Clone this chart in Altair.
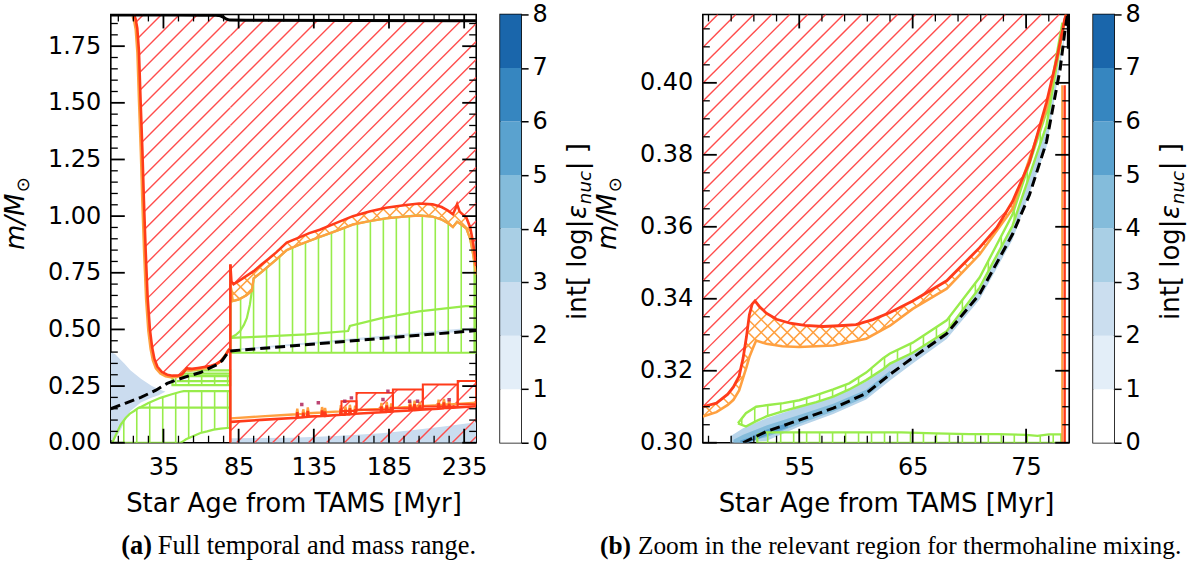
import numpy as np
import pandas as pd
import altair as alt

# ---------------- texts ----------------
X_TITLE = "Star Age from TAMS [Myr]"
Y_T_MAIN = "m/M"
Y_T_SUB = "⊙"
CB_T1 = "int[ log|"
CB_T2 = "ε"
CB_T3 = "nuc"
CB_T4 = "| ]"
CAP_A_B = "(a)"
CAP_A = "Full temporal and mass range."
CAP_B_B = "(b)"
CAP_B = "Zoom in the relevant region for thermohaline mixing."

# ---------------- ticks ----------------
A_XMAJ = [35, 85, 135, 185, 235]
A_XMIN = [5, 15, 25, 45, 55, 65, 75, 95, 105, 115, 125, 145, 155, 165, 175, 195, 205,
          215, 225]
A_YMAJ = [0.0, 0.25, 0.5, 0.75, 1.0, 1.25, 1.5, 1.75]
A_YMIN = [0.05, 0.1, 0.15, 0.2, 0.3, 0.35, 0.4, 0.45, 0.55, 0.6, 0.65, 0.7, 0.8, 0.85,
          0.9, 0.95, 1.05, 1.1, 1.15, 1.2, 1.3, 1.35, 1.4, 1.45, 1.55, 1.6, 1.65, 1.7,
          1.8, 1.85]
B_XMAJ = [55, 65, 75]
B_XMIN = [47, 49, 51, 53, 57, 59, 61, 63, 67, 69, 71, 73, 77]
B_YMAJ = [0.30, 0.32, 0.34, 0.36, 0.38, 0.40]
B_YMIN = [0.305, 0.310, 0.315, 0.325, 0.330, 0.335, 0.345, 0.350, 0.355, 0.365, 0.370,
          0.375, 0.385, 0.390, 0.395, 0.405, 0.410, 0.415]
CB_LEVELS = [0, 1, 2, 3, 4, 5, 6, 7, 8]
CB_COLORS = ["#ffffff", "#e3eef8", "#cbdeef", "#a9cfe5", "#84bcdb", "#5aa2cf",
             "#3686c0", "#1a66ab"]

# ---------------- panel (a) data ----------------
A_top_x = [0, 40, 60, 70, 73, 75, 77, 79, 90, 160, 243]
A_top_y = [1.888, 1.888, 1.887, 1.886, 1.884, 1.877, 1.869, 1.865, 1.864, 1.863, 1.862]

A_env1_x = [15.5, 16.5, 17.6, 18.7, 19.8, 21.0, 22.0, 23.2, 24.5, 26.0, 27.5, 29.0, 31.0,
            34.0, 37.5, 41.0, 45.0, 47.5, 49.3, 50.5, 52.0, 54.0, 58.0, 62.0, 66.0, 70.0,
            73.0, 75.0, 77.0, 78.5, 79.5]
A_env1_y = [1.889, 1.87, 1.83, 1.73, 1.51, 1.29, 1.07, 0.845, 0.64, 0.50, 0.42, 0.37, 0.335,
            0.312, 0.300, 0.296, 0.297, 0.303, 0.318, 0.330, 0.327, 0.326, 0.330, 0.334,
            0.338, 0.348, 0.360, 0.375, 0.392, 0.410, 0.418]

A_rv_x = [79.5, 79.5]
A_rv_y = [0.0, 0.787]

A_env2_x = [79.5, 80.2, 81.6, 85, 90, 95, 100, 105, 110, 117, 125, 132, 139, 150, 161, 172,
            183, 195, 205, 214, 220, 224, 227.5, 229, 230.3, 232, 236.5, 239, 241, 243]
A_env2_y = [0.787, 0.712, 0.699, 0.713, 0.735, 0.757, 0.785, 0.812, 0.84, 0.883, 0.905, 0.925,
            0.94, 0.97, 1.0, 1.02, 1.037, 1.048, 1.056, 1.052, 1.04, 1.025, 1.008, 1.03,
            1.052, 1.02, 0.993, 0.95, 0.88, 0.78]

A_or2_x = [79.6, 81, 85, 90, 93.8, 95, 100, 110, 117, 125, 139, 150, 161, 172, 183, 195, 205,
           214, 220, 224, 227.5, 230.3, 232, 236.5, 239, 241, 243]
A_or2_y = [0.70, 0.625, 0.632, 0.65, 0.67, 0.725, 0.752, 0.808, 0.85, 0.873, 0.908, 0.935,
           0.963, 0.978, 0.99, 0.998, 1.003, 0.998, 0.985, 0.97, 0.952, 0.975, 0.968, 0.945,
           0.90, 0.83, 0.74]

A_gR_x = [79.6, 243]
A_gR_lo = [0.397, 0.397]
A_gmid_x = [79.6, 100, 130, 157.8, 159, 180, 205, 236, 243]
A_gmid_y = [0.463, 0.468, 0.478, 0.493, 0.515, 0.55, 0.58, 0.603, 0.603]
A_gcur_x = [79.6, 83, 86, 88.5, 90.5, 92.5, 93.8]
A_gcur_y = [0.463, 0.475, 0.493, 0.52, 0.551, 0.61, 0.67]

A_gL1_x = [1, 3, 6.6, 10, 13, 15.5, 18, 20, 25, 33, 40, 46.4, 48.5, 50, 55, 59.6, 64, 68.4,
           73, 77.3, 79.4]
A_gL1_hi = [0.0, 0.03, 0.08, 0.11, 0.13, 0.14, 0.152, 0.158, 0.175, 0.198, 0.213, 0.225,
            0.228, 0.228, 0.228, 0.228, 0.228, 0.228, 0.228, 0.228, 0.228]
A_gL1_lo = [0.0, 0.0, 0.0, 0.0, 0.0, 0.0, 0.0, 0.0, 0.0, 0.0, 0.0, 0.0, 0.008, 0.015, 0.03,
            0.043, 0.05, 0.058, 0.062, 0.065, 0.066]
A_gL1m_x = [18.5, 79.4]
A_gL1m_y = [0.155, 0.155]
A_gL2_x = [41, 79.4]
A_gL2_lo = [0.254, 0.254]
A_gL2_hi = [0.294, 0.294]
A_gL2m_x = [44, 79.4]
A_gL2m_y = [0.272, 0.272]
A_gL3_x = [48.6, 79.4]
A_gL3_lo = [0.305, 0.305]
A_gL3_hi = [0.319, 0.319]

A_dash1_x = [0, 10, 20, 30, 37.5, 45, 52, 59.6, 66, 70.7, 74, 76.5, 78.6, 79.5]
A_dash1_y = [0.150, 0.175, 0.200, 0.232, 0.262, 0.28, 0.295, 0.31, 0.33, 0.345, 0.362,
             0.385, 0.405, 0.407]
A_dash2_x = [79.5, 243]
A_dash2_y = [0.405, 0.495]

A_bR_x = [79.6, 243]
A_bR_lo = [0.405, 0.495]
A_bR_hi = [0.412, 0.51]
A_bB_x = [79.6, 120, 150, 180, 200, 220, 243]
A_bB_hi = [0.02, 0.022, 0.03, 0.042, 0.055, 0.07, 0.09]
A_bL_x = [0, 3, 6, 9, 13, 20, 27, 31.8, 36.2]
A_bL_hi = [0.40, 0.39, 0.37, 0.35, 0.32, 0.282, 0.252, 0.236, 0.226]
A_bL_lo = [0.01, 0.02, 0.05, 0.09, 0.14, 0.178, 0.198, 0.21, 0.225]

A_rb_x = [79.6, 100, 123.5, 124, 124.6, 127.5, 128, 128.6, 130.5, 131, 131.6, 140, 140.5,
          141.2, 142, 142.5, 143, 152.5, 153, 153.6, 155.5, 156, 156.6, 158.5, 159, 159.6,
          162, 162.5, 163, 179.5, 180, 180.6, 183, 183.5, 184.1, 186, 186.5, 187, 198.5,
          199, 199.6, 201.5, 202, 202.6, 205, 205.5, 206, 217.5, 218, 218.6, 221, 221.5,
          222.1, 224.5, 225, 225.6, 243]
A_rb_y = [0.092, 0.101, 0.110, 0.135, 0.111, 0.112, 0.132, 0.113, 0.114, 0.140, 0.115,
          0.118, 0.142, 0.119, 0.118, 0.138, 0.119, 0.123, 0.150, 0.124, 0.124, 0.145,
          0.125, 0.125, 0.152, 0.126, 0.127, 0.148, 0.128, 0.134, 0.160, 0.135, 0.136,
          0.165, 0.137, 0.137, 0.158, 0.138, 0.142, 0.168, 0.143, 0.143, 0.170, 0.144,
          0.145, 0.165, 0.146, 0.150, 0.175, 0.151, 0.152, 0.178, 0.153, 0.153, 0.172,
          0.154, 0.161]

A_rect_x0 = [153.4, 163.4, 187.6, 207.5, 230.7]
A_rect_x1 = [163.4, 187.6, 207.5, 230.7, 243.0]
A_rect_y0 = [0.140, 0.145, 0.152, 0.160, 0.170]
A_rect_y1 = [0.183, 0.220, 0.235, 0.257, 0.272]

A_spot_x = [127, 138, 155.6, 160, 181, 184.3, 198.7, 204, 225]
A_spot_y = [0.169, 0.176, 0.183, 0.198, 0.191, 0.227, 0.183, 0.183, 0.19]

# ---------------- panel (b) data ----------------
B_red_x = [46.5, 47.7, 48.7, 49.2, 49.7, 50.05, 50.35, 50.6, 50.85, 51.1, 51.5, 52.1, 53.0,
           54.2, 55.5, 57.1, 58.5, 60.0, 61.5, 63.0, 65.0, 68.0, 70.9, 72.4, 73.8, 75.3,
           76.8, 77.7, 78.4, 78.55]
B_red_y = [0.310, 0.311, 0.3135, 0.3155, 0.3185, 0.3235, 0.3295, 0.3355, 0.3385, 0.3394,
           0.3378, 0.336, 0.3343, 0.3332, 0.3326, 0.3323, 0.3325, 0.3328, 0.3342, 0.3362,
           0.3394, 0.345, 0.3542, 0.3597, 0.367, 0.378, 0.3946, 0.4066, 0.4177, 0.419]
B_or_x = [46.5, 47.7, 48.7, 49.2, 49.7, 50.05, 50.35, 50.6, 50.9, 51.2, 52.1, 53.5, 55.0,
          58.0, 60.9, 63.0, 65.0, 68.0, 70.9, 73.8, 76.8, 78.4, 78.5]
B_or_y = [0.3073, 0.3085, 0.3105, 0.3119, 0.3145, 0.318, 0.321, 0.3238, 0.3262, 0.3284,
          0.3275, 0.3268, 0.3266, 0.327, 0.3289, 0.3325, 0.3372, 0.3428, 0.3523, 0.365,
          0.3928, 0.417, 0.419]
B_gb_x = [49.6, 50.3, 51.2, 52.1, 53.6, 55.0, 56.5, 58.0, 59.4, 60.9, 62.4, 63.0, 65.0,
          68.0, 70.9, 73.8, 76.8, 78.2]
B_gb_hi = [0.3054, 0.3082, 0.3100, 0.3104, 0.3110, 0.3118, 0.3132, 0.3148, 0.3165, 0.3195,
           0.3235, 0.3248, 0.3278, 0.3340, 0.3459, 0.3634, 0.3919, 0.4167]
B_gb_lo = [0.3054, 0.3045, 0.3060, 0.3073, 0.3088, 0.3100, 0.3113, 0.3128, 0.3148, 0.3174,
           0.3205, 0.3220, 0.3250, 0.3310, 0.3431, 0.3603, 0.3882, 0.4140]
B_gbb_x = [51.3, 52.0, 60.0, 64.0, 67.0, 70.0, 72.5, 75.0, 76.0, 77.0, 78.1]
B_gbb_hi = [0.3022, 0.3029, 0.3029, 0.3029, 0.3026, 0.3024, 0.3024, 0.3022, 0.3019,
            0.3023, 0.3023]
B_gbb_lo = [0.300, 0.300, 0.300, 0.300, 0.300, 0.300, 0.300, 0.300, 0.300, 0.300, 0.300]
B_dash_x = [50.05, 52.1, 55.0, 58.0, 60.9, 63.0, 65.0, 68.0, 70.9, 73.8, 75.3, 76.8, 78.0,
            78.4, 78.65]
B_dash_y = [0.300, 0.3031, 0.3063, 0.3096, 0.3137, 0.3190, 0.3236, 0.3303, 0.3413, 0.3579,
            0.3689, 0.3836, 0.4038, 0.4139, 0.419]
B_bl_x = [48.9, 50.05, 52.1, 55.0, 58.0, 60.9, 63.0, 65.0, 68.0, 70.9, 73.8, 76.8, 78.4]
B_bl_lo = [0.300, 0.300, 0.3005, 0.3045, 0.3080, 0.3120, 0.3173, 0.3220, 0.3288, 0.3398,
           0.3564, 0.3822, 0.4125]
B_bl_hi = [0.3017, 0.3040, 0.3068, 0.3098, 0.3126, 0.3170, 0.3218, 0.3248, 0.3312, 0.3428,
           0.3601, 0.3880, 0.4140]
B_bm_x = [49.2, 50.05, 52.1, 55.0, 58.0, 60.9, 63.0]
B_bm_lo = [0.300, 0.300, 0.3015, 0.3052, 0.3087, 0.3127, 0.3185]
B_bm_hi = [0.3008, 0.3022, 0.3048, 0.3077, 0.3108, 0.3147, 0.3200]
B_bd_x = [49.8, 50.5, 52.1, 54.0]
B_bd_lo = [0.300, 0.300, 0.3020, 0.3042]
B_bd_hi = [0.3006, 0.3013, 0.3036, 0.3055]
B_rv_x = [78.4, 78.4]
B_rv_y = [0.300, 0.3993]
B_blk_x = [78.7, 78.7]
B_blk_y = [0.4095, 0.419]

# ---------------- styling ----------------
RED = "#ff3b1a"
RED_H = "#ff4d4d"
ORANGE = "#ffa040"
GREEN = "#98ec4b"
FONT = "DejaVu Sans"
SERIF = "Liberation Serif"

W_A, H_A = 366, 429
W_B, H_B = 367, 429
XA = [0, 243]
YA = [0, 1.89]
XB = [46.5, 78.8]
YB = [0.30, 0.419]
DOM_A = (XA, YA, W_A, H_A)
DOM_B = (XB, YB, W_B, H_B)


def scales(dom):
    xd, yd, W, H = dom
    return (alt.Scale(domain=xd, nice=False, zero=False),
            alt.Scale(domain=yd, nice=False, zero=False))


def diag_hatch(lx, ly, hx, hy, xr, dom, d, sign, step=0.25):
    xd, yd, W, H = dom
    sx = W / (xd[1] - xd[0])
    sy = H / (yd[1] - yd[0])
    X = np.arange((xr[0] - xd[0]) * sx, (xr[1] - xd[0]) * sx + 1e-9, step)
    xs = X / sx + xd[0]
    L = (np.interp(xs, lx, ly) - yd[0]) * sy
    U = (np.interp(xs, hx, hy) - yd[0]) * sy
    if sign > 0:
        cmin, cmax = (L - X).min(), (U - X).max()
    else:
        cmin, cmax = (L + X).min(), (U + X).max()
    rows = []
    for k in range(int(np.floor(cmin / d)), int(np.ceil(cmax / d)) + 1):
        Y = sign * X + k * d
        ins = ((Y >= L) & (Y <= U)).astype(int)
        e = np.flatnonzero(np.diff(np.concatenate([[0], ins, [0]])))
        for a, b in zip(e[0::2], e[1::2]):
            if b - a >= 2:
                rows.append((X[a] / sx + xd[0], Y[a] / sy + yd[0],
                             X[b - 1] / sx + xd[0], Y[b - 1] / sy + yd[0]))
    return pd.DataFrame(rows, columns=["x", "y", "x2", "y2"])


def vert_hatch(lx, ly, hx, hy, xr, dom, d):
    xd, yd, W, H = dom
    sx = W / (xd[1] - xd[0])
    X0 = (xr[0] - xd[0]) * sx
    X1 = (xr[1] - xd[0]) * sx
    X = np.arange(np.ceil(X0 / d) * d, X1, d)
    xs = X / sx + xd[0]
    lo = np.interp(xs, lx, ly)
    hi = np.interp(xs, hx, hy)
    m = hi > lo
    return pd.DataFrame({"x": xs[m], "y": lo[m], "x2": xs[m], "y2": hi[m]})


def segs(df, dom, color, width):
    xs, ys = scales(dom)
    return alt.Chart(df).mark_rule(color=color, strokeWidth=width, clip=True).encode(
        x=alt.X("x:Q", scale=xs, axis=None), y=alt.Y("y:Q", scale=ys, axis=None),
        x2="x2:Q", y2="y2:Q")


def line(x, y, dom, color, width, dash=None, xoff=None, yoff=None):
    xs, ys = scales(dom)
    df = pd.DataFrame({"x": x, "y": y, "i": np.arange(len(x))})
    kw = dict(color=color, strokeWidth=width, clip=True)
    if dash:
        kw["strokeDash"] = dash
    if xoff is not None:
        kw["xOffset"] = xoff
    if yoff is not None:
        kw["yOffset"] = yoff
    return alt.Chart(df).mark_line(**kw).encode(
        x=alt.X("x:Q", scale=xs, axis=None), y=alt.Y("y:Q", scale=ys, axis=None),
        order="i:Q")


def outline(lx, ly, hx, hy, dom, color, width):
    x = list(hx) + list(lx)[::-1] + [hx[0]]
    y = list(hy) + list(ly)[::-1] + [hy[0]]
    return line(x, y, dom, color, width)


def band(x, lo, hi, dom, color):
    xs, ys = scales(dom)
    df = pd.DataFrame({"x": x, "lo": lo, "hi": hi})
    return alt.Chart(df).mark_area(color=color, opacity=1, clip=True).encode(
        x=alt.X("x:Q", scale=xs, axis=None), y=alt.Y("hi:Q", scale=ys, axis=None),
        y2="lo:Q")


def text(t, x, y, size, angle=0, align="left", font=FONT, style="normal", weight="normal"):
    kw = dict(x=x, y=y, fontSize=size, align=align, baseline="alphabetic", font=font,
              fontStyle=style, fontWeight=weight, color="black")
    if angle:
        kw["angle"] = angle
    return alt.Chart(pd.DataFrame({"t": [t]})).mark_text(**kw).encode(text="t:N")


def anchor(x, x2, y, y2):
    return alt.Chart(pd.DataFrame({"a": [0]})).mark_rule(opacity=0, strokeWidth=0).encode(
        x=alt.value(x), x2=alt.value(x2), y=alt.value(y), y2=alt.value(y2))


def axes(dom, xmaj, xmin, ymaj, ymin):
    xd, yd, W, H = dom
    xs, ys = scales(dom)
    df = pd.DataFrame({"x": [xd[0]], "y": [yd[0]]})
    lab = dict(labelFont=FONT, labelFontSize=24, labelColor="black", grid=False, domain=False)
    out = [alt.Chart(df).mark_point(opacity=0).encode(
        x=alt.X("x:Q", scale=xs, axis=alt.Axis(
            orient="bottom", values=xmaj, format="d", ticks=False, tickSize=0,
            labelPadding=13, title=X_TITLE, titleFont=FONT, titleFontSize=26,
            titleFontWeight="normal", titleColor="black", titleX=W / 2, titleY=69,
            titleBaseline="alphabetic", titleAlign="center", **lab)),
        y=alt.Y("y:Q", scale=ys, axis=alt.Axis(
            orient="left", values=ymaj, format=".2f", ticks=False, tickSize=0,
            labelPadding=10, title=None, **lab)))]
    # inward ticks on all four sides, drawn from the tick value lists
    for xv, yv, size, wdt in [(xmaj, ymaj, 14, 1.8), (xmin, ymin, 7, 1.3)]:
        dx = pd.DataFrame({"v": xv})
        dy = pd.DataFrame({"v": yv})
        for a, b in [(H, H - size), (0, size)]:
            out.append(alt.Chart(dx).mark_rule(color="black", strokeWidth=wdt).encode(
                x=alt.X("v:Q", scale=xs, axis=None), y=alt.value(a), y2=alt.value(b)))
        for a, b in [(0, size), (W, W - size)]:
            out.append(alt.Chart(dy).mark_rule(color="black", strokeWidth=wdt).encode(
                y=alt.Y("v:Q", scale=ys, axis=None), x=alt.value(a), x2=alt.value(b)))
    return out


def ytitle():
    return [text(Y_T_MAIN, -87, 236, 26, angle=270, style="italic"),
            text(Y_T_SUB, -82, 236 - 58, 18, angle=270)]


# ---------------- panel (a) ----------------
D = DOM_A
red_a = pd.concat([
    diag_hatch(A_env1_x, A_env1_y, A_top_x, A_top_y, [15.5, 79.5], D, 18, 1),
    diag_hatch(A_env2_x, A_env2_y, A_top_x, A_top_y, [79.5, 243], D, 18, 1),
    diag_hatch([79.6, 243], [0, 0], A_rb_x, A_rb_y, [79.6, 243], D, 18, 1),
] + [diag_hatch([a, b], [c, c], [a, b], [e, e], [a, b], D, 18, 1)
     for a, b, c, e in zip(A_rect_x0, A_rect_x1, A_rect_y0, A_rect_y1)], ignore_index=True)
or_a = pd.concat([
    diag_hatch(A_or2_x, A_or2_y, A_env2_x, A_env2_y, [79.6, 243], D, 13, 1),
    diag_hatch(A_or2_x, A_or2_y, A_env2_x, A_env2_y, [79.6, 243], D, 13, -1),
], ignore_index=True)
gr_a = pd.concat([
    vert_hatch(A_gR_x, A_gR_lo, A_or2_x, A_or2_y, [79.6, 243], D, 13),
    vert_hatch(A_gL1_x, A_gL1_lo, A_gL1_x, A_gL1_hi, [1, 79.4], D, 13),
    vert_hatch(A_gL2_x, A_gL2_lo, A_gL2_x, A_gL2_hi, [41, 79.4], D, 13),
], ignore_index=True)

xs_a, ys_a = scales(D)
rects_a = alt.Chart(pd.DataFrame({"x": A_rect_x0, "x2": A_rect_x1, "y": A_rect_y0,
                                  "y2": A_rect_y1})).mark_rect(
    fillOpacity=0, stroke=RED, strokeWidth=2, clip=True).encode(
    x=alt.X("x:Q", scale=xs_a, axis=None), x2="x2:Q",
    y=alt.Y("y:Q", scale=ys_a, axis=None), y2="y2:Q")
spots_a = alt.Chart(pd.DataFrame({"x": A_spot_x, "y": A_spot_y})).mark_square(
    color="#b0245a", size=12, opacity=0.85, clip=True).encode(
    x=alt.X("x:Q", scale=xs_a, axis=None), y=alt.Y("y:Q", scale=ys_a, axis=None))

layers_a = [
    band(A_bL_x, A_bL_lo, A_bL_hi, D, "#cbdcef"),
    band(A_bB_x, [0] * len(A_bB_x), A_bB_hi, D, "#c9dcef"),
    band(A_bR_x, A_bR_lo, A_bR_hi, D, "#cfe0f1"),
    segs(gr_a, D, GREEN, 1.6),
    segs(or_a, D, ORANGE, 1.5),
    segs(red_a, D, RED_H, 1.4),
    outline(A_gL1_x, A_gL1_lo, A_gL1_x, A_gL1_hi, D, GREEN, 2.2),
    line(A_gL1m_x, A_gL1m_y, D, GREEN, 2.2),
    outline(A_gL2_x, A_gL2_lo, A_gL2_x, A_gL2_hi, D, GREEN, 2.2),
    line(A_gL2m_x, A_gL2m_y, D, GREEN, 2.2),
    outline(A_gL3_x, A_gL3_lo, A_gL3_x, A_gL3_hi, D, GREEN, 2.2),
    outline(A_gR_x, A_gR_lo, A_or2_x, A_or2_y, D, GREEN, 2.2),
    line(A_gmid_x, A_gmid_y, D, GREEN, 2.2),
    line(A_gcur_x, A_gcur_y, D, GREEN, 2.2),
    line(A_env1_x, A_env1_y, D, ORANGE, 2.4, xoff=-1.6, yoff=1.6),
    line(A_or2_x, A_or2_y, D, ORANGE, 2.4),
    line(A_rb_x, A_rb_y, D, ORANGE, 2.4, yoff=-3.5),
    rects_a,
    line(A_rb_x, A_rb_y, D, RED, 2.6),
    spots_a,
    line(A_env1_x, A_env1_y, D, RED, 2.6),
    line(A_env2_x, A_env2_y, D, RED, 2.6),
    line(A_rv_x, A_rv_y, D, RED, 2.6),
    line(A_dash1_x, A_dash1_y, D, "black", 3, dash=[10, 5]),
    line(A_dash2_x, A_dash2_y, D, "black", 3, dash=[10, 5]),
    line(A_top_x, A_top_y, D, "black", 3),
] + axes(D, A_XMAJ, A_XMIN, A_YMAJ, A_YMIN) + ytitle() + [
    text(CAP_A_B, 10.5, 540, 26.4, font=SERIF, weight="bold"),
    text(CAP_A, 47, 540, 26.4, font=SERIF),
    anchor(-110, -109, -13, 548),
]
panel_a = alt.layer(*layers_a).resolve_axis(x="independent", y="independent").properties(
    width=W_A, height=H_A)

# ---------------- panel (b) ----------------
D = DOM_B
red_b = diag_hatch(B_red_x, B_red_y, [46.5, 78.8], [0.419, 0.419], [46.5, 78.55], D, 18, 1)
or_b = pd.concat([
    diag_hatch(B_or_x, B_or_y, B_red_x, B_red_y, [46.5, 78.45], D, 13, 1),
    diag_hatch(B_or_x, B_or_y, B_red_x, B_red_y, [46.5, 78.45], D, 13, -1),
], ignore_index=True)
gr_b = pd.concat([
    vert_hatch(B_gb_x, B_gb_lo, B_gb_x, B_gb_hi, [49.6, 78.2], D, 13),
    vert_hatch(B_gbb_x, B_gbb_lo, B_gbb_x, B_gbb_hi, [51.3, 78.1], D, 13),
], ignore_index=True)

layers_b = [
    band(B_bl_x, B_bl_lo, B_bl_hi, D, "#b7d4ea"),
    band(B_bm_x, B_bm_lo, B_bm_hi, D, "#84bcdb"),
    band(B_bd_x, B_bd_lo, B_bd_hi, D, "#5a9fcd"),
    segs(gr_b, D, GREEN, 1.6),
    segs(or_b, D, ORANGE, 1.5),
    segs(red_b, D, RED_H, 1.4),
    outline(B_gb_x, B_gb_lo, B_gb_x, B_gb_hi, D, GREEN, 2.4),
    outline(B_gbb_x, B_gbb_lo, B_gbb_x, B_gbb_hi, D, GREEN, 2.2),
    line(B_or_x, B_or_y, D, ORANGE, 2.6),
    line(B_rv_x, B_rv_y, D, ORANGE, 2.0, xoff=-2.5),
    line(B_red_x, B_red_y, D, RED, 2.8),
    line(B_rv_x, B_rv_y, D, RED, 2.4),
    line(B_dash_x, B_dash_y, D, "black", 3, dash=[10, 5]),
    line(B_blk_x, B_blk_y, D, "black", 2.5),
] + axes(D, B_XMAJ, B_XMIN, B_YMAJ, B_YMIN) + ytitle() + [
    text(CAP_B_B, -103, 540, 25.4, font=SERIF, weight="bold"),
    text(CAP_B, -65, 540, 25.4, font=SERIF),
]
panel_b = alt.layer(*layers_b).resolve_axis(x="independent", y="independent").properties(
    width=W_B, height=H_B)


# ---------------- colorbars ----------------
def cbar(right_anchor=False):
    df = pd.DataFrame({"lo": CB_LEVELS[:-1], "hi": CB_LEVELS[1:], "c": CB_COLORS})
    rect = alt.Chart(df).mark_rect().encode(
        x=alt.value(0), x2=alt.value(21),
        y=alt.Y("lo:Q", scale=alt.Scale(domain=[0, 8], nice=False, zero=False),
                axis=alt.Axis(orient="right", values=CB_LEVELS, format="d", tickSize=7,
                              tickWidth=1.5, tickColor="black", labelPadding=4,
                              labelFont=FONT, labelFontSize=24, labelColor="black",
                              domain=False, grid=False, title=None)),
        y2="hi:Q", color=alt.Color("c:N", scale=None))
    y0 = 306
    bx = 86
    parts = [rect,
             text(CB_T1, bx, y0, 26, angle=270),
             text(CB_T2, bx, y0 - 101, 26, angle=270, style="italic"),
             text(CB_T3, bx + 5, y0 - 116, 18.2, angle=270, style="italic"),
             text(CB_T4, bx, y0 - 150, 26, angle=270)]
    if right_anchor:
        parts.append(anchor(97, 98, 0, 1))
    return alt.layer(*parts).properties(width=21, height=429)


spacer = alt.Chart(pd.DataFrame({"a": [0]})).mark_point(opacity=0).encode(
    x=alt.value(0), y=alt.value(0)).properties(
    width=134, height=429, view=alt.ViewBackground(strokeOpacity=0))

chart = alt.hconcat(panel_a, cbar(), spacer, panel_b, cbar(True), spacing=24,
                    bounds="flush").properties(padding=0).configure_view(
    stroke="black", strokeWidth=1.6)

chart.save("out.html", embed_options={"renderer": "svg", "actions": False})
